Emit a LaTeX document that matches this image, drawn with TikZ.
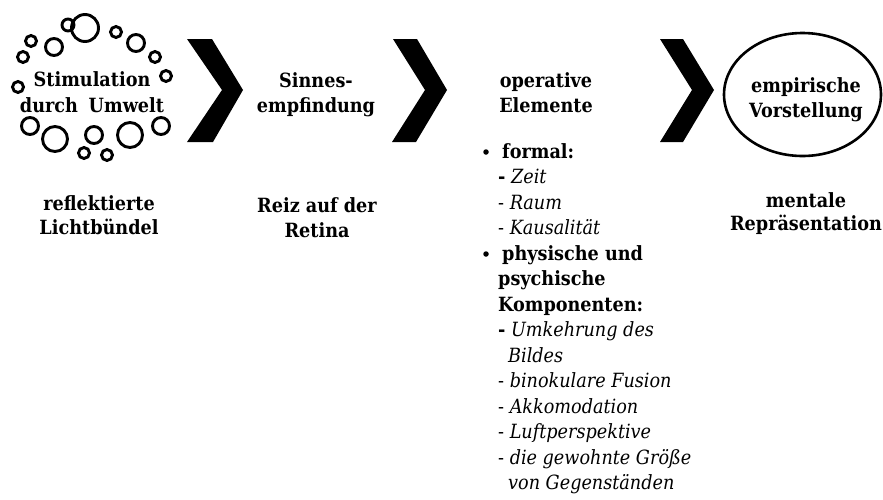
\documentclass[tikz,border=0pt]{standalone}
\usepackage{fontspec}
\setmainfont{DejaVu Serif Condensed}
\begin{document}
\begin{tikzpicture}[x=1pt,y=-1pt,
  txt/.style={inner sep=0pt, font=\fontsize{19.6}{25}\selectfont},
  hd/.style={txt, font=\bfseries\fontsize{19.6}{25}\selectfont, anchor=base},
  li/.style={txt, anchor=base west},
  bul/.style={circle, fill=black, inner sep=0pt, minimum size=5.5pt},
  ring/.style={draw=black, line width=2.9pt},
  chev/.style={fill=black, draw=none}]
\useasboundingbox (0,0) rectangle (883,499);
\fill[white] (0,0) rectangle (883,499);
% bubble cluster
\foreach \cx/\cy/\r [count=\i] in {85/28/13.5, 68/25/6, 31/41/5.5, 54/47/8.5, 23/57/5.5, 18/87/5.5,
   116/32/5.5, 136/43/8.5, 155/57/5.5, 166/76/5.5, 161/126/8.5, 130/135/12.5, 94/135/8.5,
   84/153/5.5, 107/155/5.5, 55/139/12.5, 30/126/8.5}
  \draw[ring] (\cx,\cy) circle[radius=\r];
% chevrons
\fill[chev] (187,39) -- (212,39) -- (243,90) -- (213,142) -- (187,142) -- (222,90) -- cycle;
\fill[chev] (393,39) -- (417,39) -- (447,90) -- (416,142) -- (392,142) -- (425,90) -- cycle;
\fill[chev] (660,39) -- (683,39) -- (714,90) -- (683,142) -- (660,142) -- (692,90) -- cycle;
% ellipse
\draw[line width=2.6pt] (802.5,94.5) ellipse[x radius=78.5, y radius=61.5];
% headings
\node[hd] (s1) at (92,86) {Stimulation};
\node[hd] (s2) at (92,112) {durch\hspace{0.55em}Umwelt};
\node[hd] (e1) at (316,87) {Sinnes-};
\node[hd] (e2) at (316,112) {empfindung};
\node[hd] (o1) at (546,87) {operative};
\node[hd] (o2) at (546,112) {Elemente};
\node[hd] (v1) at (806,92) {empirische};
\node[hd] (v2) at (806,117) {Vorstellung};
\node[hd] (r1) at (99,210) {reflektierte};
\node[hd] (r2) at (99,234) {Lichtbündel};
\node[hd] (t1) at (317,212) {Reiz auf der};
\node[hd] (t2) at (317,237) {Retina};
\node[hd] (m1) at (806,207) {mentale};
\node[hd] (m2) at (806,230) {Repräsentation};
% list
\node[bul] (b1) at (486,152) {};
\node[li] (l1) at (502,158) {\textbf{formal:}};
\node[li] (l2) at (498,183.5) {\textbf{-} \textit{Zeit}};
\node[li] (l3) at (498,209) {- \textit{Raum}};
\node[li] (l4) at (498,234.5) {- \textit{Kausalität}};
\node[bul] (b2) at (486,254) {};
\node[li] (l5) at (502,260) {\textbf{physische und}};
\node[li] (l6) at (498,285.5) {\textbf{psychische}};
\node[li] (l7) at (498,311) {\textbf{Komponenten:}};
\node[li] (l8) at (498,336.5) {\textbf{-} \textit{Umkehrung des}};
\node[li] (l9) at (508,362) {\textit{Bildes}};
\node[li] (l10) at (498,387.5) {- \textit{binokulare Fusion}};
\node[li] (l11) at (498,413) {- \textit{Akkomodation}};
\node[li] (l12) at (498,438.5) {- \textit{Luftperspektive}};
\node[li] (l13) at (498,464) {- \textit{die gewohnte Größe}};
\node[li] (l14) at (508,489.5) {\textit{von Gegenständen}};
\end{tikzpicture}
\end{document}
